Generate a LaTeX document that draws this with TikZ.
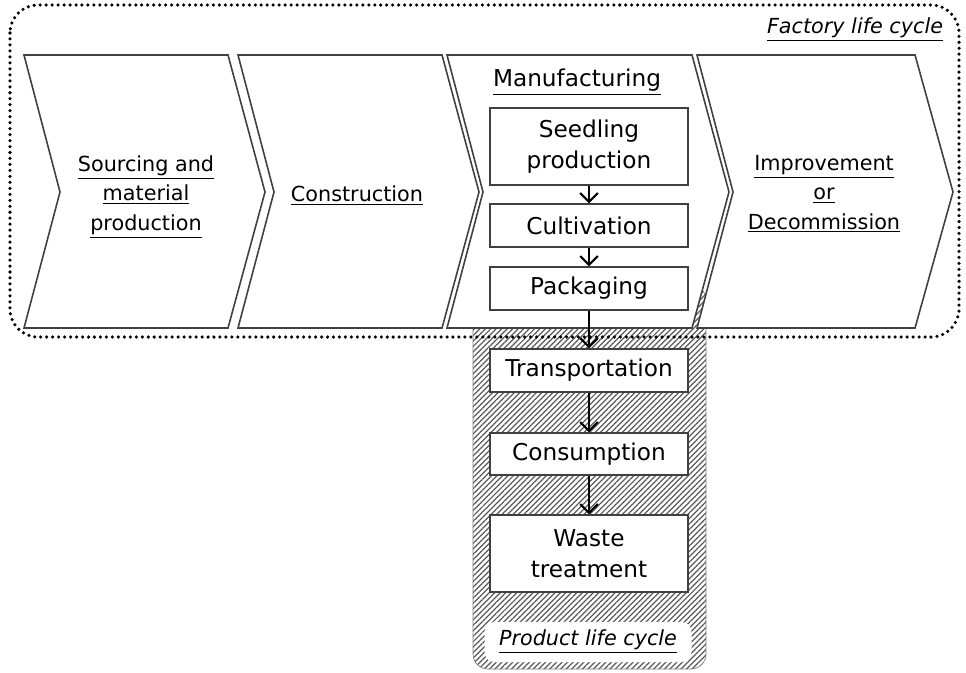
\documentclass[tikz,border=0pt]{standalone}
\usepackage{fontspec}
\setmainfont{DejaVu Sans}
\usepackage{tikz}
\usetikzlibrary{bayesnet,arrows.meta,patterns.meta}
\definecolor{edgegray}{HTML}{404040}
\tikzstyle{stage} = [draw=edgegray, line width=0.9pt, fill=white]
\tikzstyle{stagelabel} = [align=center, text centered, font=\fontsize{11.8}{16.7}\selectfont]
\tikzstyle{process} = [draw=edgegray, rectangle, fill=white, line width=0.8pt, minimum width=3.96cm, text centered, align=center, font=\fontsize{13.2}{17.5}\selectfont]
\tikzstyle{flow} = [>={Straight Barb[length=5pt,width=10pt,line width=1.2pt]}, line width=1.3pt]
\tikzstyle{factory} = [draw, line width=2pt, dash pattern=on 0pt off 3.4pt, line cap=round, rounded corners=0.56cm]
\tikzstyle{product} = [draw=gray, pattern={Lines[angle=45,distance=2.2pt,line width=0.7pt]}, pattern color=gray!70!black, rounded corners=0.3cm]

\begin{document}
\begin{tikzpicture}[x=0.2mm, y=0.2mm]
    \useasboundingbox (0,0) rectangle (966,-672);
    \draw[product] (473,-285) rectangle (706,-669);
    \draw[stage] (24,-55) -- (228,-55) -- (265,-192) -- (228,-328) -- (24,-328) -- (60,-192) -- cycle;
    \draw[stage] (238,-55) -- (442,-55) -- (479,-192) -- (442,-328) -- (238,-328) -- (274,-192) -- cycle;
    \draw[stage] (447,-55) -- (692,-55) -- (729,-192) -- (692,-328) -- (447,-328) -- (483,-192) -- cycle;
    \draw[stage] (697,-55) -- (915,-55) -- (953,-192) -- (915,-328) -- (697,-328) -- (733,-192) -- cycle;
    \draw[factory] (10,-5) rectangle (959,-337);
    \draw (855,-30) node[stagelabel] (A) {\textit{\underline{Factory life cycle}}};
    \draw (146,-197) node[stagelabel] (B) {\underline{Sourcing and}\\ \underline{material}\\ \underline{production}};
    \draw (357,-196) node[stagelabel] (C) {\underline{Construction}};
    \draw (577,-82)  node[stagelabel, font=\fontsize{13.2}{17.5}\selectfont] (D) {\underline{Manufacturing}};
    \draw (824,-194) node[stagelabel] (E) {\underline{Improvement}\\ \underline{or}\\ \underline{Decommission}};
    \draw (589,-146.5) node[process, minimum height=1.54cm] (F) {Seedling\\ production};
    \draw (589,-225.5) node[process, minimum height=0.86cm] (G) {Cultivation};
    \draw (589,-288.5) node[process, minimum height=0.86cm] (H) {Packaging};
    \draw (589,-370.5) node[process, minimum height=0.86cm] (I) {Transportation};
    \draw (589,-454)   node[process, minimum height=0.84cm] (J) {Consumption};
    \draw (589,-553.5) node[process, minimum height=1.54cm] (K) {Waste\\ treatment};
    \draw (588,-642)   node[stagelabel, fill=white, rounded corners=0.2cm, minimum width=4.14cm, minimum height=0.8cm] (L) {\textit{\underline{Product life cycle}}};
    \edge[flow] {F} {G};
    \edge[flow] {G} {H};
    \edge[flow] {H} {I};
    \edge[flow] {I} {J};
    \edge[flow] {J} {K};
\end{tikzpicture}
\end{document}
